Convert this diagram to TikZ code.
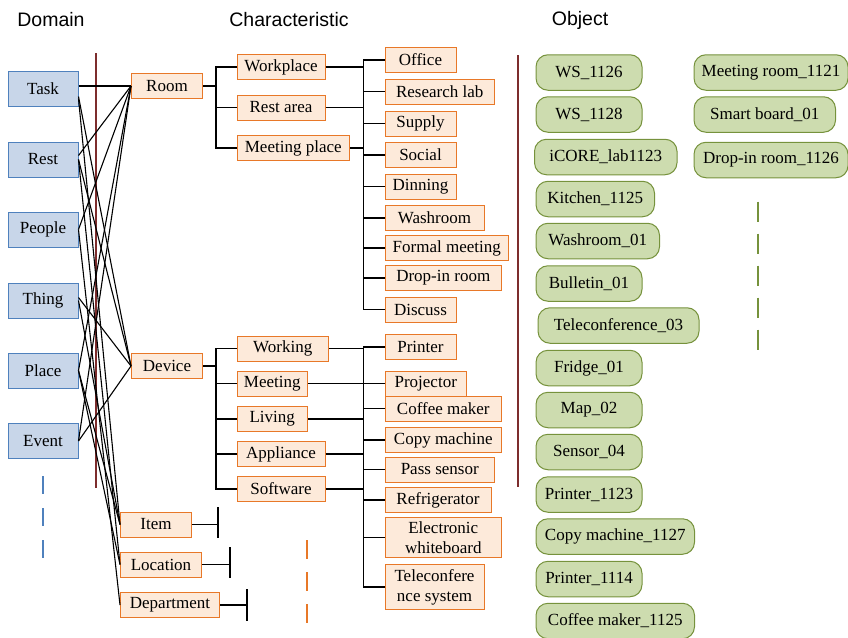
\documentclass[tikz,border=0pt]{standalone}
\usepackage{fontspec}
\setmainfont{Liberation Serif}
\newfontfamily\seriffont{Liberation Serif}
\newfontfamily\headfont{Liberation Sans}
\definecolor{domfill}{RGB}{200,214,233}
\definecolor{domline}{RGB}{79,129,189}
\definecolor{orgfill}{RGB}{253,234,218}
\definecolor{orgline}{RGB}{232,120,40}
\definecolor{grnfill}{RGB}{205,220,175}
\definecolor{grnline}{RGB}{118,146,60}
\definecolor{brownline}{RGB}{125,45,45}
\begin{document}
\begin{tikzpicture}[x=1pt,y=-1pt,
  txt/.style={font=\seriffont\fontsize{17}{20}\selectfont},
  head/.style={font=\headfont\fontsize{19.5}{22}\selectfont, inner sep=0},
  dom/.style={txt, draw=domline, fill=domfill, line width=1pt, minimum width=70, minimum height=35, inner sep=0},
  chr/.style={txt, draw=orgline, fill=orgfill, line width=1pt, minimum height=25, inner sep=0, anchor=west, align=center},
  obj/.style={txt, draw=grnline, fill=grnfill, line width=1pt, rounded corners=12pt, minimum height=35.5, inner sep=0, anchor=west},
  conn/.style={line width=1.1pt, black},
  sep/.style={line width=2.5pt, brownline},
]
\useasboundingbox (0,0) rectangle (848,637);

% headings
\node[head] (hdom) at (51,20) {Domain};
\node[head] (hchr) at (289,20) {Characteristic};
\node[head] (hobj) at (580,20) {Object};

% separators
\draw[sep] (96,53) -- (96,488);
\draw[sep] (518,55) -- (518,487);

% domain boxes
\node[dom] (Task) at (43,88.5) {Task};
\node[dom] (Rest) at (43,159.5) {Rest};
\node[dom] (People) at (43,229.5) {People};
\node[dom] (Thing) at (43,300.5) {Thing};
\node[dom] (Place) at (43,370.5) {Place};
\node[dom] (Event) at (43,441) {Event};
\draw[domline, line width=2pt, dash pattern=on 18pt off 14pt] (43,476) -- (43,558);

% characteristic level 1
\node[chr, minimum width=71] (Room) at (131,86) {Room};
\node[chr, minimum width=71] (Device) at (131,366) {Device};
\node[chr, minimum width=71] (Item) at (120,524.5) {Item};
\node[chr, minimum width=81] (Location) at (120,564.5) {Location};
\node[chr, minimum width=99] (Department) at (120,605) {Department};

% domain -> characteristic connectors
\draw[conn] ([yshift=2.5pt]Task.east) -- (Room.west);
\draw[conn] ([yshift=4pt]Rest.east) -- (Room.west);
\draw[conn] (People.east) -- (Room.west);
\draw[conn] (Place.east) -- (Room.west);
\draw[conn] (Event.east) -- (Room.west);
\draw[conn] ([yshift=-8pt]Task.east) -- (Device.west);
\draw[conn] (Rest.east) -- (Device.west);
\draw[conn] ([yshift=3pt]Thing.east) -- (Device.west);
\draw[conn] (Event.east) -- (Device.west);
\draw[conn] ([yshift=-10pt]Task.east) -- (Item.west);
\draw[conn] (Thing.east) -- (Item.west);
\draw[conn] (Place.east) -- (Item.west);
\draw[conn] (Rest.east) -- (Location.west);
\draw[conn] (Place.east) -- (Location.west);
\draw[conn] (People.east) -- (Department.west);

% terminal bars
\coordinate (ib) at (218,524.5);
\coordinate (lb) at (230,564.5);
\coordinate (db) at (247,605);
\draw[conn] (Item.east) -- (ib);
\draw[conn] (218,507) -- (218,538);
\draw[conn] (Location.east) -- (lb);
\draw[conn] (230,547) -- (230,578);
\draw[conn] (Department.east) -- (db);
\draw[conn] (247,589) -- (247,621);
\draw[orgline, line width=2pt, dash pattern=on 19pt off 13pt] (307,540) -- (307,623);

% room subtree
\coordinate (t1) at (216,0);
\coordinate (t2) at (363.5,0);
\node[chr, minimum width=88] (Workplace) at (236.5,67) {Workplace};
\node[chr, minimum width=88] (Restarea) at (236.5,107.5) {Rest area};
\node[chr, minimum width=112.5] (Meetingplace) at (236.5,148) {Meeting place};
\draw[conn] (Room.east) -- (Room.east -| t1);
\draw[conn] (Workplace.west) -- (Workplace.west -| t1) -- (Meetingplace.west -| t1) -- (Meetingplace.west);
\draw[conn] (Restarea.west) -- (Restarea.west -| t1);

\node[chr, minimum width=71] (Office) at (384.5,60) {Office};
\node[chr, minimum width=109.5] (Research) at (384.5,91.5) {Research lab};
\node[chr, minimum width=71] (Supply) at (384.5,123.5) {Supply};
\node[chr, minimum width=71] (Social) at (384.5,155) {Social};
\node[chr, minimum width=71] (Dinning) at (384.5,186.5) {Dinning};
\node[chr, minimum width=99] (Washroom) at (384.5,218) {Washroom};
\node[chr, minimum width=123.5] (Formal) at (384.5,248) {Formal meeting};
\node[chr, minimum width=116.5] (Dropin) at (384.5,278) {Drop-in room};
\node[chr, minimum width=71] (Discuss) at (384.5,309.5) {Discuss};
\draw[conn] (Workplace.east) -- (Workplace.east -| t2);
\draw[conn] (Restarea.east) -- (Restarea.east -| t2);
\draw[conn] (Meetingplace.east) -- (Meetingplace.east -| t2);
\draw[conn] (Office.west) -- (Office.west -| t2) -- (Discuss.west -| t2) -- (Discuss.west);
\foreach \n in {Research,Supply,Social,Dinning,Washroom,Formal,Dropin}
  \draw[conn] (\n.west) -- (\n.west -| t2);

% device subtree
\node[chr, minimum width=91.5] (Working) at (236.5,348.5) {Working};
\node[chr, minimum width=70.5] (Meeting) at (236.5,383.5) {Meeting};
\node[chr, minimum width=70.5] (Living) at (236.5,419) {Living};
\node[chr, minimum width=88] (Appliance) at (236.5,454) {Appliance};
\node[chr, minimum width=88] (Software) at (236.5,489) {Software};
\draw[conn] (Device.east) -- (Device.east -| t1);
\draw[conn] (Working.west) -- (Working.west -| t1) -- (Software.west -| t1) -- (Software.west);
\foreach \n in {Meeting,Living,Appliance}
  \draw[conn] (\n.west) -- (\n.west -| t1);

\node[chr, minimum width=71] (Printer) at (384.5,347) {Printer};
\node[chr, minimum width=81.5] (Projector) at (384.5,383.5) {Projector};
\node[chr, minimum width=116.5] (Coffee) at (384.5,408.5) {Coffee maker};
\node[chr, minimum width=116.5] (Copy) at (384.5,440) {Copy machine};
\node[chr, minimum width=109.5] (Pass) at (384.5,469.5) {Pass sensor};
\node[chr, minimum width=106] (Fridge) at (384.5,500) {Refrigerator};
\node[chr, minimum width=116.5, minimum height=40.5] (Board) at (384.5,537.5) {Electronic\\whiteboard};
\node[chr, minimum width=99, minimum height=45.5] (Tele) at (384.5,587) {Teleconfere\\nce system};
\foreach \n in {Working,Meeting,Living,Appliance,Software}
  \draw[conn] (\n.east) -- (\n.east -| t2);
\draw[conn] (Printer.west) -- (Printer.west -| t2) -- (Tele.west -| t2) -- (Tele.west);
\foreach \n in {Projector,Coffee,Copy,Pass,Fridge,Board}
  \draw[conn] (\n.west) -- (\n.west -| t2);

% objects
\node[obj, minimum width=106] (o1) at (535.5,72.5) {WS\_1126};
\node[obj, minimum width=106] (o2) at (535.5,114.5) {WS\_1128};
\node[obj, minimum width=142.5] (o3) at (534,157) {iCORE\_lab1123};
\node[obj, minimum width=118.5] (o4) at (535.5,199) {Kitchen\_1125};
\node[obj, minimum width=123.5] (o5) at (535.5,241) {Washroom\_01};
\node[obj, minimum width=106] (o6) at (535.5,283.5) {Bulletin\_01};
\node[obj, minimum width=161] (o7) at (537.5,325.5) {Teleconference\_03};
\node[obj, minimum width=106] (o8) at (535.5,368) {Fridge\_01};
\node[obj, minimum width=106] (o9) at (535.5,410) {Map\_02};
\node[obj, minimum width=106] (o10) at (535.5,452) {Sensor\_04};
\node[obj, minimum width=106] (o11) at (535.5,494.5) {Printer\_1123};
\node[obj, minimum width=158.5] (o12) at (535.5,536.5) {Copy machine\_1127};
\node[obj, minimum width=106] (o13) at (535.5,579) {Printer\_1114};
\node[obj, minimum width=158.5] (o14) at (535.5,621) {Coffee maker\_1125};
\node[obj, minimum width=154] (o15) at (693.5,72.5) {Meeting room\_1121};
\node[obj, minimum width=141.5] (o16) at (693.5,114.5) {Smart board\_01};
\node[obj, minimum width=154] (o17) at (693.5,160) {Drop-in room\_1126};
\draw[grnline, line width=2pt, dash pattern=on 20.5pt off 11.5pt] (757.5,201.5) -- (757.5,350.5);
\end{tikzpicture}
\end{document}
